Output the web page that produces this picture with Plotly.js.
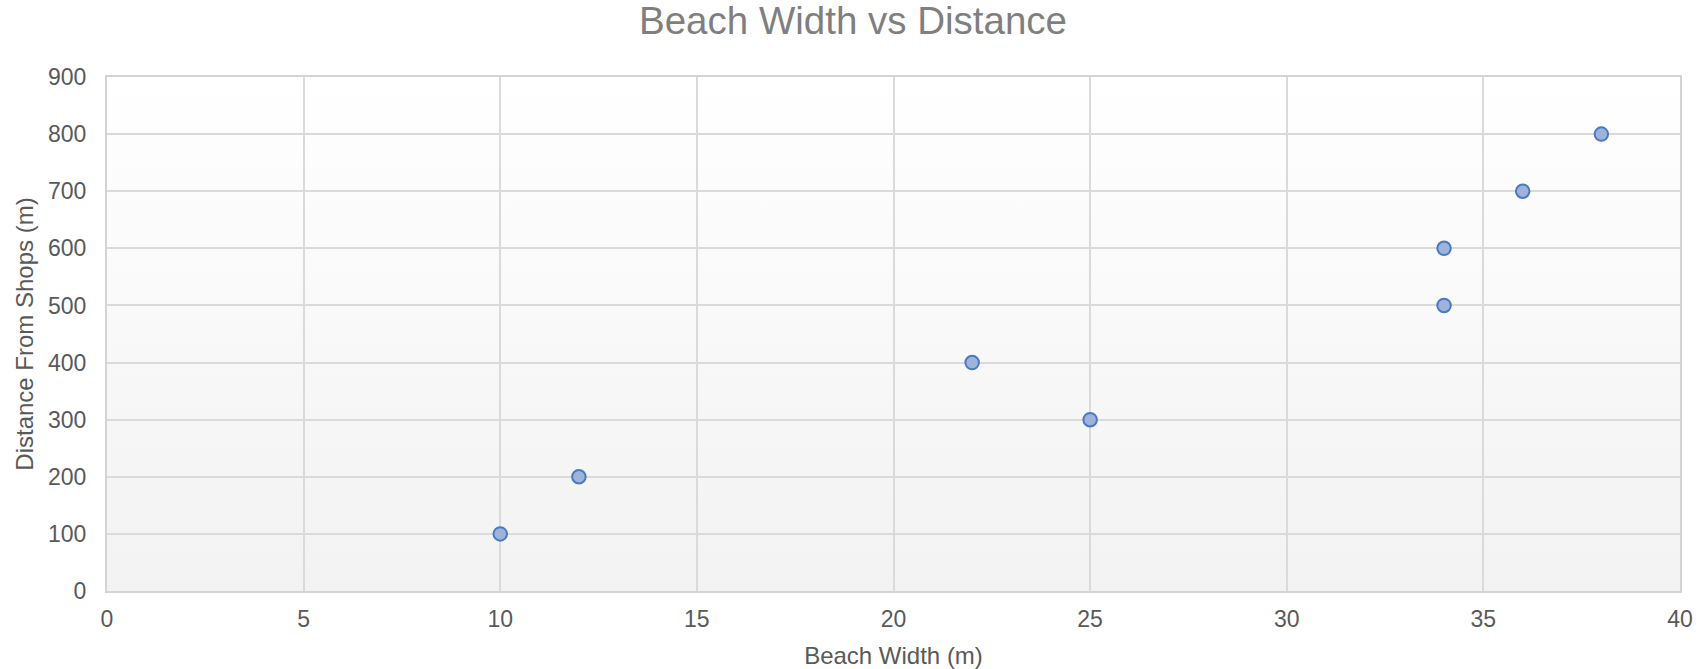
<!DOCTYPE html>
<html>
<head>
<meta charset="utf-8">
<script src="https://cdn.plot.ly/plotly-3.0.1.min.js"></script>
<style>
  html, body { margin: 0; padding: 0; background: #ffffff; }
  #chart { width: 1706px; height: 669px; }
</style>
</head>
<body>
<div id="chart"></div>
<script>
// Beach width (m) against distance from the shops (m)
const beachWidth = [10, 12, 22, 25, 34, 34, 36, 38];
const distanceFromShops = [100, 200, 400, 300, 500, 600, 700, 800];

const xTicks = [0, 5, 10, 15, 20, 25, 30, 35, 40];
const yTicks = [0, 100, 200, 300, 400, 500, 600, 700, 800, 900];

const FONT = 'Liberation Sans, Arial, sans-serif';

// soft vertical fade for the plot area: white at top, light grey at bottom
const gradientSvg =
  '<svg xmlns="http://www.w3.org/2000/svg" width="100" height="100" preserveAspectRatio="none">' +
  '<defs><linearGradient id="g" x1="0" y1="0" x2="0" y2="1">' +
  '<stop offset="0" stop-color="#ffffff"/><stop offset="1" stop-color="#f2f2f2"/>' +
  '</linearGradient></defs><rect width="100" height="100" fill="url(#g)"/></svg>';
const gradientUri = 'data:image/svg+xml;base64,' + btoa(gradientSvg);

const trace = {
  type: 'scatter',
  mode: 'markers',
  x: beachWidth,
  y: distanceFromShops,
  marker: {
    size: 13.5,
    color: '#9db3d9',
    line: { color: '#4a78c2', width: 2 }
  },
  hoverinfo: 'x+y'
};

const axisCommon = {
  showgrid: true,
  gridcolor: '#dadada',
  gridwidth: 2,
  showline: true,
  linecolor: '#d3d3d3',
  linewidth: 2,
  mirror: true,
  zeroline: false,
  ticks: '',
  tickfont: { family: FONT, size: 23, color: '#595959' }
};

const layout = {
  width: 1706,
  height: 669,
  paper_bgcolor: '#ffffff',
  plot_bgcolor: 'rgba(0,0,0,0)',
  margin: { l: 107, r: 26, t: 77, b: 78 },
  showlegend: false,
  title: {
    text: 'Beach Width vs Distance',
    font: { family: FONT, size: 38.5, color: '#7f7f7f' },
    x: 0.5,
    xref: 'container',
    xanchor: 'center',
    y: 0.97,
    yref: 'container',
    yanchor: 'middle'
  },
  xaxis: Object.assign({}, axisCommon, {
    range: [0, 40],
    tickvals: xTicks,
    ticktext: xTicks.map(String),
    ticklabelstandoff: 6,
    title: {
      text: 'Beach Width (m)',
      font: { family: FONT, size: 24, color: '#595959' },
      standoff: 17
    }
  }),
  yaxis: Object.assign({}, axisCommon, {
    range: [0, 900],
    tickvals: yTicks,
    ticktext: yTicks.map(String),
    ticklabelstandoff: 14,
    title: {
      text: 'Distance From Shops (m)',
      font: { family: FONT, size: 24, color: '#595959' },
      standoff: 8
    }
  }),
  images: [{
    source: gradientUri,
    xref: 'paper', yref: 'paper',
    x: 0, y: 1, sizex: 1, sizey: 1,
    xanchor: 'left', yanchor: 'top',
    sizing: 'stretch',
    layer: 'below'
  }]
};

Plotly.newPlot('chart', [trace], layout, { displayModeBar: false, staticPlot: true });
</script>
</body>
</html>
